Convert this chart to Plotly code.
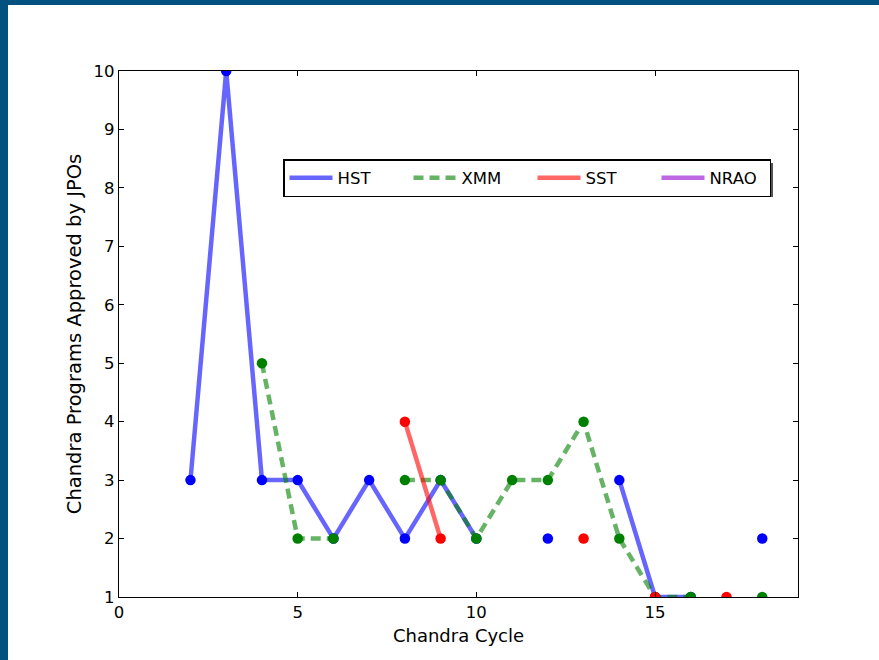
import plotly.graph_objects as go

cycles = list(range(1, 19))
hst = [None, 3, 10, 3, 3, 2, 3, 2, 3, 2, None, 2, None, 3, 1, 1, None, 2]
xmm = [None, None, None, 5, 2, 2, None, 3, 3, 2, 3, 3, 4, 2, 1, 1, None, 1]
sst = [None, None, None, None, None, None, None, 4, 2, None, None, None, 2, None, 1, None, 1, None]
nrao = [None] * 18

series = [
    ("HST", hst, "rgba(0,0,255,0.6)", "rgb(0,0,255)", "solid", None),
    ("XMM", xmm, "rgba(0,128,0,0.6)", "rgb(0,128,0)", "10px,6px", None),
    ("SST", sst, "rgba(255,0,0,0.6)", "rgb(255,0,0)", "solid", None),
    ("NRAO", nrao, "rgba(148,0,211,0.6)", "rgb(148,0,211)", "solid", 55),
]

FONT = "DejaVu Sans"
fig = go.Figure()
for name, ys, lc, mc, dash, lw in series:
    fig.add_trace(go.Scatter(x=cycles, y=ys, mode="lines", name=name,
                             line=dict(color=lc, width=4.5, dash=dash),
                             connectgaps=False, showlegend=True,
                             legendwidth=lw))
    fig.add_trace(go.Scatter(x=cycles, y=ys, mode="markers", name=name,
                             marker=dict(color=mc, size=10.5),
                             showlegend=False))

W, H = 879, 660
L, R, T, B = 119, 81, 71, 63
pw, ph = W - L - R, H - T - B

def px2x(p):
    return (p - L) / pw

def py2y(p):
    return (H - B - p) / ph

shapes = [
    dict(type="rect", xref="paper", yref="paper", x0=px2x(0), x1=px2x(W), y0=py2y(0), y1=py2y(5),
         fillcolor="#02517f", line=dict(width=0), layer="above"),
    dict(type="rect", xref="paper", yref="paper", x0=px2x(0), x1=px2x(8), y0=py2y(0), y1=py2y(H),
         fillcolor="#02517f", line=dict(width=0), layer="above"),
    # legend shadow
    dict(type="rect", xref="paper", yref="paper", x0=px2x(287), x1=px2x(773), y0=py2y(163), y1=py2y(197),
         fillcolor="#555555", line=dict(width=0), layer="above"),
]

axis_common = dict(showline=True, linecolor="black", linewidth=1.3, mirror="ticks",
                   ticks="inside", ticklen=5, tickcolor="black", showgrid=False, zeroline=False,
                   tickfont=dict(family=FONT, size=16.5, color="black"))

fig.update_layout(
    width=W, height=H,
    margin=dict(l=L, r=R, t=T, b=B),
    paper_bgcolor="white", plot_bgcolor="white",
    font=dict(family=FONT, size=16, color="black"),
    xaxis=dict(range=[0, 19], tick0=0, dtick=5,
               title=dict(text="Chandra Cycle", font=dict(family=FONT, size=18), standoff=8),
               **axis_common),
    yaxis=dict(range=[1, 10], tick0=1, dtick=1,
               title=dict(text="Chandra Programs Approved by JPOs", font=dict(family=FONT, size=19.5), standoff=6),
               **axis_common),
    legend=dict(orientation="h", x=px2x(283), y=py2y(159), xanchor="left", yanchor="top",
                bgcolor="white", bordercolor="black", borderwidth=1.5,
                itemwidth=43, entrywidth=66, entrywidthmode="pixels",
                font=dict(family=FONT, size=16.5, color="black")),
    shapes=shapes,
)

fig.write_html("out.html")
